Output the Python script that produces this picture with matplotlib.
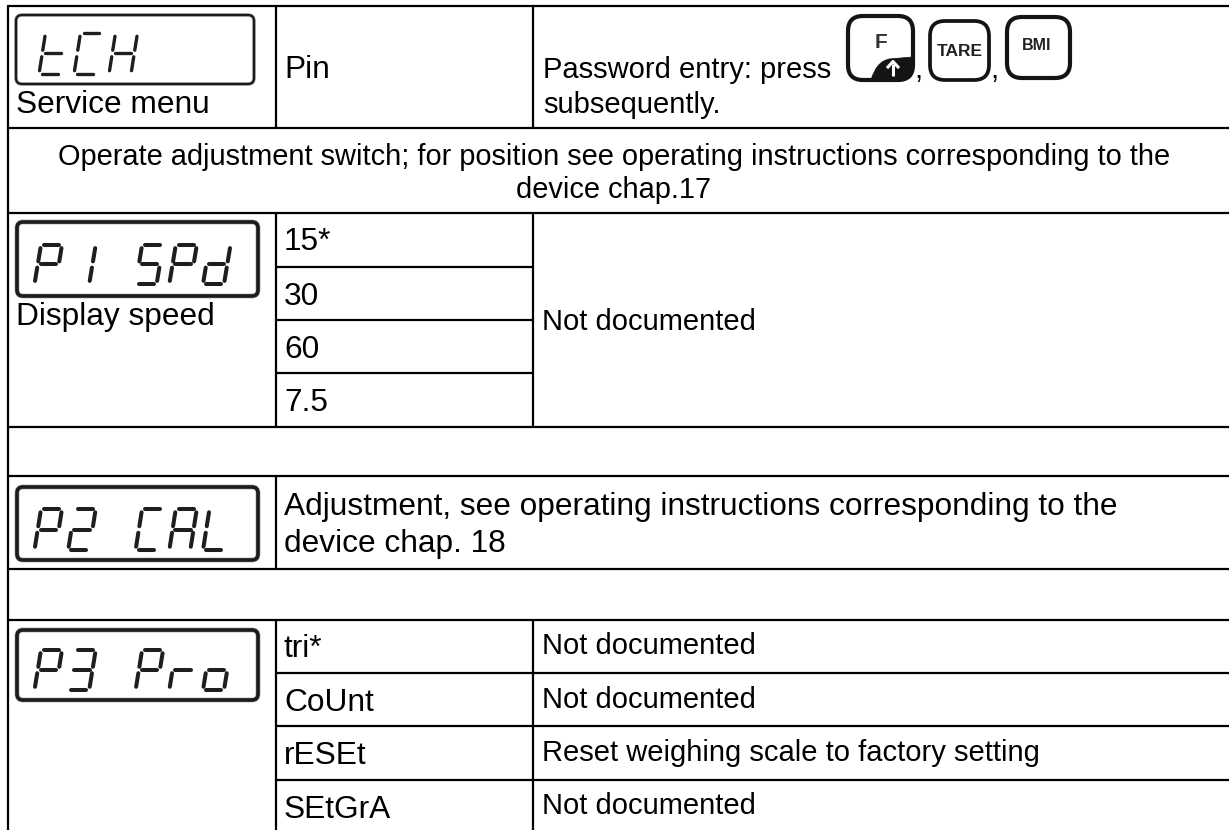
import matplotlib
matplotlib.use('Agg')
import matplotlib.pyplot as plt
from matplotlib.patches import FancyBboxPatch, PathPatch
from matplotlib.path import Path

plt.rcParams['font.family'] = ['Liberation Sans', 'DejaVu Sans']

# --- Table content ---
lcd_labels = ['tCH', 'P1 SPd', 'P2 CAL', 'P3 Pro']
menu_labels = ['Service menu', 'Display speed']
speed_options = ['15*', '30', '60', '7.5']
pro_options = ['tri*', 'CoUnt', 'rESEt', 'SEtGrA']
pro_notes = ['Not documented', 'Not documented',
             'Reset weighing scale to factory setting', 'Not documented']
pin_label = 'Pin'
password_lines = ['Password entry: press', 'subsequently.']
switch_lines = ['Operate adjustment switch; for position see operating instructions corresponding to the',
                'device chap.17']
speed_note = 'Not documented'
adjust_lines = ['Adjustment, see operating instructions corresponding to the', 'device chap. 18']
key_labels = ['F', 'TARE', 'BMI']

# --- Seven segment tables ---
SEGMENTS = {
    'a': ((0.14, 0.0), (0.86, 0.0)),
    'b': ((1.0, 0.08), (1.0, 0.42)),
    'c': ((1.0, 0.58), (1.0, 0.92)),
    'd': ((0.14, 1.0), (0.86, 1.0)),
    'e': ((0.0, 0.58), (0.0, 0.92)),
    'f': ((0.0, 0.08), (0.0, 0.42)),
    'g': ((0.14, 0.5), (0.86, 0.5)),
}
GLYPHS = {'t': 'defg', 'C': 'adef', 'H': 'bcefg', 'P': 'abefg', '1': 'bc', 'S': 'acdfg',
          'd': 'bcdeg', '2': 'abdeg', 'A': 'abcefg', 'L': 'def', '3': 'abcdg',
          'r': 'eg', 'o': 'cdeg', ' ': ''}

W, H = 1229, 830
fig = plt.figure(figsize=(W / 100, H / 100), dpi=100)
ax = fig.add_axes([0, 0, 1, 1])
ax.set_xlim(0, W)
ax.set_ylim(H, 0)
ax.axis('off')

LW = 1.6
X0, X1, X2 = 8, 276, 533


def hline(y, a=X0, b=W):
    ax.plot([a, b], [y, y], color='black', lw=LW, solid_capstyle='butt')


def vline(x, a, b):
    ax.plot([x, x], [a, b], color='black', lw=LW, solid_capstyle='butt')


def lcd(label, box, x0, pitch, top, height, glyph_w, frame_lw, seg_lw):
    # grey halo under the frame, the source is a blurred bitmap
    for lw, col in ((frame_lw + 0.9, '#b0b0b0'), (frame_lw, '#1c1c1c')):
        ax.add_patch(FancyBboxPatch((box[0] + 5, box[1] + 5), box[2] - box[0] - 10, box[3] - box[1] - 10,
                                    boxstyle='round,pad=5,rounding_size=6', fc='none', ec=col, lw=lw))
    for i, ch in enumerate(label):
        for s in GLYPHS[ch]:
            (ua, va), (ub, vb) = SEGMENTS[s]
            slant = 6.5
            xs = [x0 + i * pitch + u * glyph_w + (1 - v) * slant for u, v in ((ua, va), (ub, vb))]
            ys = [top + v * height for v in (va, vb)]
            ax.plot(xs, ys, color='#1e1e1e', lw=seg_lw, solid_capstyle='round')


def key(x0, y0, x1, y1, lw=3.0, r=15):
    ax.add_patch(FancyBboxPatch((x0 + r, y0 + r), x1 - x0 - 2 * r, y1 - y0 - 2 * r,
                                boxstyle=f'round,pad={r},rounding_size={r}', fc='white',
                                ec='#141414', lw=lw, zorder=3))


# --- Grid ---
for y in [6.5, 128, 213, 427, 476, 569, 620]:
    hline(y)
for y in [673, 726, 780]:
    hline(y, X1)
for y in [267, 320, 373]:
    hline(y, X1, X2)
vline(X0, 5.5, H)
for a, b in [(6, 128), (213, 427), (476, 569), (620, H)]:
    vline(X1, a, b)
for a, b in [(6, 128), (213, 427), (620, H)]:
    vline(X2, a, b)

# --- LCD panels ---
lcd(lcd_labels[0], (16, 15, 254, 84), 39, 35, 33, 41, 22, 1.7, 2.4)
lcd(lcd_labels[1], (17, 222, 258, 296), 34.5, 33.7, 245, 39, 21, 2.6, 2.9)
lcd(lcd_labels[2], (17, 487, 258, 560), 34.5, 33.7, 509, 41, 21, 2.6, 2.9)
lcd(lcd_labels[3], (17, 630, 258, 700), 34.5, 33.7, 650, 40, 21, 2.6, 2.9)

# --- Text ---
BIG, SMALL = 22.8, 21
ax.text(16, 113, menu_labels[0], fontsize=BIG, va='baseline')
ax.text(16, 325, menu_labels[1], fontsize=BIG, va='baseline')
ax.text(284, 78, pin_label, fontsize=BIG, va='baseline')
for txt, y in zip(password_lines, [78, 113]):
    ax.text(543, y, txt, fontsize=SMALL, va='baseline')
for txt, y in zip(switch_lines, [165, 198]):
    ax.text(614, y, txt, fontsize=20.9, va='baseline', ha='center')
for txt, y in zip(speed_options, [250, 305, 358, 411]):
    ax.text(284, y, txt, fontsize=BIG, va='baseline')
ax.text(542, 330, speed_note, fontsize=SMALL, va='baseline')
for txt, y in zip(adjust_lines, [515, 552]):
    ax.text(284, y, txt, fontsize=BIG, va='baseline')
for txt, y in zip(pro_options, [657, 711, 764, 818]):
    ax.text(284, y, txt, fontsize=BIG, va='baseline')
for txt, y in zip(pro_notes, [654, 708, 761, 814]):
    ax.text(542, y, txt, fontsize=SMALL, va='baseline')
for x in [914, 990]:
    ax.text(x, 78, ',', fontsize=SMALL, va='baseline', zorder=4)

# --- Keys ---
key(848, 16, 913, 80)
key(930, 21, 989, 80, lw=2.7)
key(1007, 17, 1070, 78)
ax.text(881, 42.5, key_labels[0], fontsize=15, ha='center', va='center', color='#333333', fontweight='bold', zorder=4)
ax.text(960, 51, key_labels[1], fontsize=12.5, ha='center', va='center', color='#222222', fontweight='bold', zorder=4)
ax.text(1037, 45.5, key_labels[2], fontsize=11.5, ha='center', va='center', color='#222222', fontweight='bold', zorder=4)

corner = Path([(871, 80), (876, 62), (889, 59), (912, 57), (912, 70), (908, 78), (898, 80), (871, 80)],
              [Path.MOVETO, Path.CURVE3, Path.CURVE3, Path.LINETO, Path.CURVE3, Path.CURVE3, Path.LINETO, Path.CLOSEPOLY])
ax.add_patch(PathPatch(corner, fc='#141414', ec='#141414', lw=0.5, zorder=4))
ax.plot([893, 893], [64, 76], color='white', lw=2.2, solid_capstyle='butt', zorder=5)
ax.plot([888, 893, 898], [67, 61.5, 67], color='white', lw=2.2, zorder=5)

fig.savefig('out.png', dpi=100)
